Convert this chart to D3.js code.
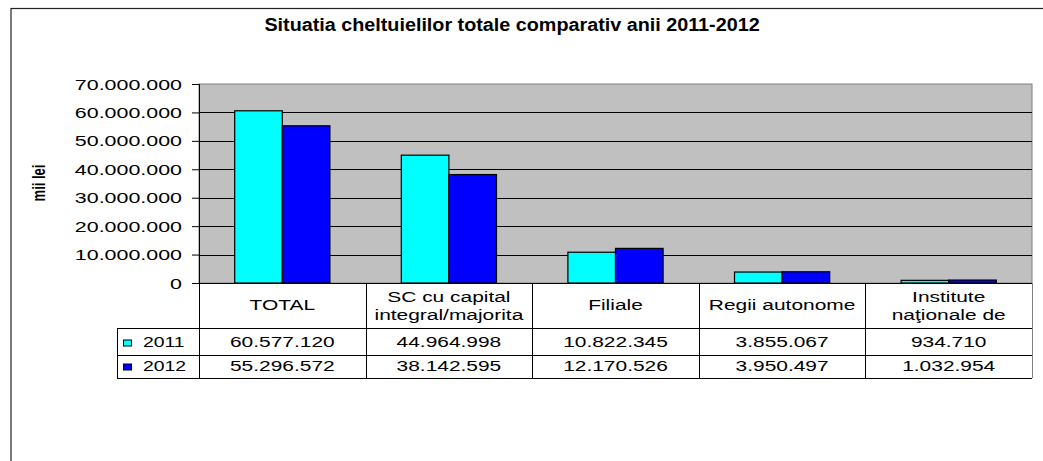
<!DOCTYPE html>
<html>
<head>
<meta charset="utf-8">
<script src="https://cdn.jsdelivr.net/npm/d3@7"></script>
<style>
  html, body { margin: 0; padding: 0; background: #fff; }
  svg { display: block; font-family: "Liberation Sans", Arial, sans-serif; }
</style>
</head>
<body>
<svg id="chart" width="1043" height="461"></svg>
<script>
const title = 'Situatia cheltuielilor totale comparativ anii 2011-2012';
const yLabel = 'mii lei';
const categories = ['TOTAL', 'SC cu capital\nintegral/majorita', 'Filiale', 'Regii autonome', 'Institute\nnaţionale de'];
const seriesNames = ['2011', '2012'];
const values2011 = [60577120, 44964998, 10822345, 3855067, 934710];
const values2012 = [55296572, 38142595, 12170526, 3950497, 1032954];
const yTicks = [0, 10000000, 20000000, 30000000, 40000000, 50000000, 60000000, 70000000];
const colors = ['#00ffff', '#0000ff'];

const series = [values2011, values2012];
const roFormat = d3.formatLocale({ decimal: ',', thousands: '.', grouping: [3], currency: ['', ''] }).format(',');

const svg = d3.select('#chart');
const plotLeft = 199, plotRight = 1032, plotTop = 84, plotBottom = 283;
const headerBottom = 328, row1Bottom = 355, row2Bottom = 378, legendLeft = 117;
const sx = 1.35; // the text in the picture is stretched sideways

// place a text with a horizontal stretch
function label(parent, x, y, txt, anchor, size, weight, stretch) {
  return parent.append('text')
    .attr('transform', 'translate(' + x + ',' + y + ') scale(' + (stretch || sx) + ',1)')
    .attr('text-anchor', anchor)
    .attr('font-size', size)
    .attr('font-weight', weight || 'normal')
    .attr('fill', '#000')
    .text(txt);
}

// outer chart border
svg.append('rect')
  .attr('x', 11).attr('y', 8.5)
  .attr('width', 1100).attr('height', 500)
  .attr('fill', 'none').attr('stroke', '#222').attr('stroke-width', 1.2);

label(svg, 512, 31, title, 'middle', 17.5, 'bold', 1.13);

const x = d3.scaleBand().domain(categories).range([plotLeft, plotRight]);
const x1 = d3.scaleBand().domain(seriesNames).range([0, x.bandwidth()]).paddingOuter(0.75);
const y = d3.scaleLinear().domain([0, 70000000]).range([plotBottom, plotTop]);

// plot area
svg.append('rect')
  .attr('x', plotLeft).attr('y', plotTop)
  .attr('width', plotRight - plotLeft).attr('height', plotBottom - plotTop)
  .attr('fill', '#c0c0c0').attr('stroke', '#808080');

svg.append('g')
  .selectAll('line')
  .data(yTicks.slice(1, -1))
  .join('line')
  .attr('x1', plotLeft).attr('x2', plotRight)
  .attr('y1', d => Math.round(y(d)) + 0.5).attr('y2', d => Math.round(y(d)) + 0.5)
  .attr('stroke', '#000');

// y axis
const yAxis = svg.append('g')
  .attr('transform', 'translate(' + plotLeft + ',0)')
  .call(d3.axisLeft(y).tickValues(yTicks).tickSize(7).tickFormat(() => ''));
yAxis.select('.domain').attr('stroke', '#000');
yAxis.selectAll('.tick line').attr('stroke', '#000');
yTicks.forEach(t => label(svg, 182, y(t) + 5.5, roFormat(t), 'end', 15.3, 'normal', 1.4));

svg.append('text')
  .attr('transform', 'translate(45,183) scale(1.35,1) rotate(-90)')
  .attr('text-anchor', 'middle')
  .attr('font-size', 13)
  .attr('font-weight', 'bold')
  .text(yLabel);

// bars
const groups = svg.append('g')
  .selectAll('g')
  .data(categories)
  .join('g')
  .attr('transform', d => 'translate(' + x(d) + ',0)');

groups.selectAll('rect')
  .data((d, i) => seriesNames.map((s, j) => ({ s: s, v: series[j][i], c: colors[j] })))
  .join('rect')
  .attr('x', d => x1(d.s))
  .attr('y', d => y(d.v))
  .attr('width', x1.bandwidth())
  .attr('height', d => y(0) - y(d.v))
  .attr('fill', d => d.c)
  .attr('stroke', '#000')
  .attr('stroke-width', 1.2);

// zero line
svg.append('line')
  .attr('x1', plotLeft - 7).attr('x2', plotRight)
  .attr('y1', plotBottom + 0.5).attr('y2', plotBottom + 0.5)
  .attr('stroke', '#000');

// data table
const table = svg.append('g').attr('stroke', '#000').attr('shape-rendering', 'crispEdges');
[headerBottom, row1Bottom, row2Bottom].forEach(yy => {
  table.append('line').attr('x1', legendLeft).attr('x2', plotRight).attr('y1', yy + 0.5).attr('y2', yy + 0.5);
});
table.append('line').attr('x1', legendLeft + 0.5).attr('x2', legendLeft + 0.5).attr('y1', headerBottom).attr('y2', row2Bottom);
categories.concat([null]).forEach(c => {
  const xx = c ? x(c) : plotRight;
  table.append('line').attr('x1', xx + 0.5).attr('x2', xx + 0.5).attr('y1', plotBottom).attr('y2', row2Bottom)
    .attr('stroke', c ? '#000' : '#808080');
});

categories.forEach(c => {
  const cx = x(c) + x.bandwidth() / 2;
  const lines = c.split('\n');
  if (lines.length === 1) {
    label(svg, cx, 310, lines[0], 'middle', 15.5);
  } else {
    label(svg, cx, 301.5, lines[0], 'middle', 15.5);
    label(svg, cx, 319.5, lines[1], 'middle', 15.5);
  }
});

const rowBase = [346.5, 370.5];
seriesNames.forEach((s, j) => {
  svg.append('rect')
    .attr('x', 123.5).attr('y', rowBase[j] - 6.5)
    .attr('width', 8).attr('height', 6)
    .attr('fill', colors[j]).attr('stroke', '#000');
  label(svg, 143, rowBase[j], s, 'start', 15.5, 'normal', 1.25);
  categories.forEach((c, i) => {
    label(svg, x(c) + x.bandwidth() / 2, rowBase[j], roFormat(series[j][i]), 'middle', 15.5);
  });
});
</script>
</body>
</html>
